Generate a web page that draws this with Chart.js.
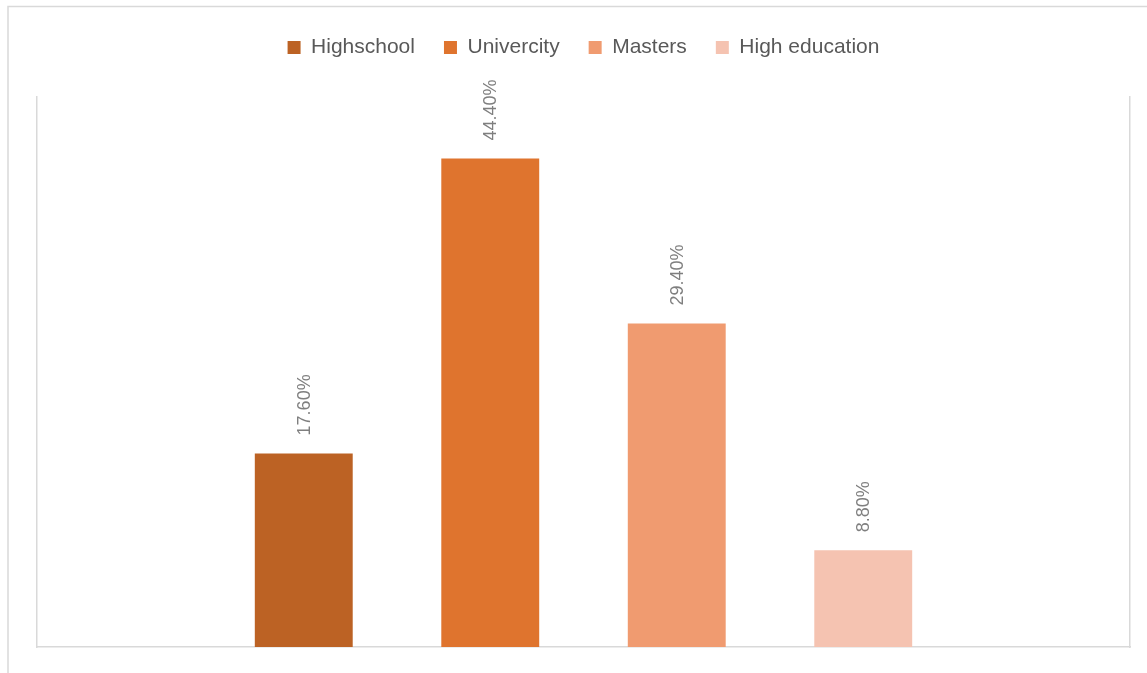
<!DOCTYPE html>
<html>
<head>
<meta charset="utf-8">
<script src="https://cdn.jsdelivr.net/npm/chart.js@4.4.0/dist/chart.umd.min.js"></script>
<style>
  html, body { margin: 0; padding: 0; background: #fff; }
  #wrap { width: 1147px; height: 673px; position: relative; }
</style>
</head>
<body>
<div id="wrap"><canvas id="eduChart"></canvas></div>
<script>
const categories = ['Highschool', 'Univercity', 'Masters', 'High education'];
const shares = [17.6, 44.4, 29.4, 8.8];
const barColors = ['#BC6224', '#DF742E', '#F09B70', '#F5C3B1'];
const yMax = 50;

// outer frame and rotated value labels
const decorations = {
    id: 'decorations',
    beforeDraw(chart) {
        const ctx = chart.ctx;
        ctx.save();
        ctx.strokeStyle = '#d9d9d9';
        ctx.lineWidth = 1.5;
        ctx.strokeRect(8, 6.5, 3000, 3000);
        ctx.restore();
    },
    afterDatasetsDraw(chart) {
        const ctx = chart.ctx;
        ctx.save();
        ctx.fillStyle = '#7f7f7f';
        ctx.font = '18px "Liberation Sans", Arial, sans-serif';
        ctx.textAlign = 'left';
        ctx.textBaseline = 'middle';
        chart.data.datasets.forEach((ds, i) => {
            const bar = chart.getDatasetMeta(i).data[0];
            ctx.save();
            ctx.translate(bar.x, bar.y - 18);
            ctx.rotate(-Math.PI / 2);
            ctx.fillText(ds.data[0].toFixed(2) + '%', 0, 1);
            ctx.restore();
        });
        ctx.restore();
    }
};

const ctx = document.getElementById('eduChart').getContext('2d');
new Chart(ctx, {
    type: 'bar',
    data: {
        labels: [''],
        datasets: categories.map((name, i) => ({
            label: name,
            data: [shares[i]],
            backgroundColor: barColors[i],
            categoryPercentage: 0.6825,
            barPercentage: 0.525
        }))
    },
    options: {
        responsive: true,
        maintainAspectRatio: false,
        animation: false,
        layout: { padding: { top: 8, left: 37, right: 17, bottom: 26 } },
        plugins: {
            legend: {
                position: 'top',
                labels: {
                    boxWidth: 13,
                    boxHeight: 13,
                    padding: 29,
                    color: '#595959',
                    font: { family: '"Liberation Sans", Arial, sans-serif', size: 21 }
                }
            },
            tooltip: { enabled: false }
        },
        scales: {
            x: {
                grid: { display: false, drawTicks: false },
                border: { display: true, color: '#d9d9d9', width: 1.5 },
                ticks: { display: false },
                afterFit: s => { s.height = 0; }
            },
            xTop: {
                position: 'top',
                grid: { display: false, drawTicks: false },
                border: { display: false },
                ticks: { display: false },
                afterFit: s => { s.height = 29; }
            },
            y: {
                min: 0,
                max: yMax,
                grid: { display: false, drawTicks: false },
                border: { display: true, color: '#d9d9d9', width: 1.5 },
                ticks: { display: false },
                afterFit: s => { s.width = 0; }
            },
            yRight: {
                position: 'right',
                min: 0,
                max: yMax,
                grid: { display: false, drawTicks: false },
                border: { display: true, color: '#d9d9d9', width: 1.5 },
                ticks: { display: false },
                afterFit: s => { s.width = 0; }
            }
        }
    },
    plugins: [decorations]
});
</script>
</body>
</html>
